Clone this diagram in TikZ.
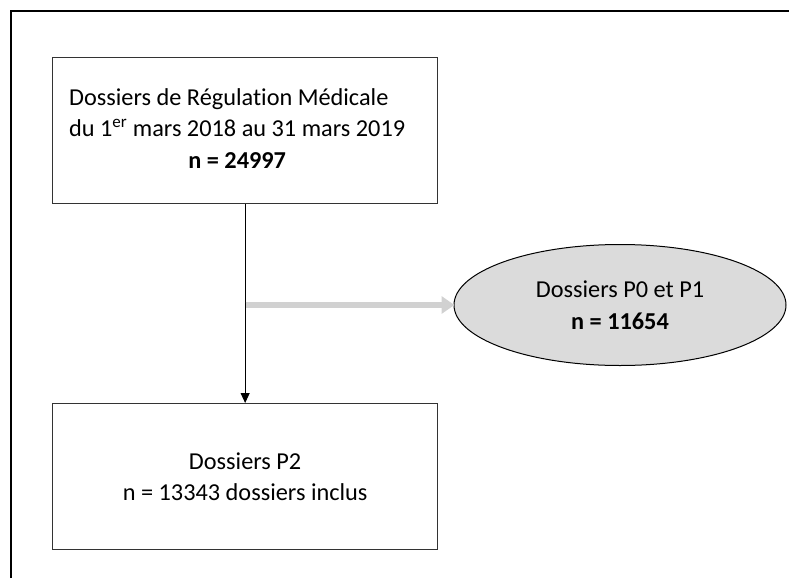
\documentclass[tikz,border=0pt]{standalone}
\usepackage{fontspec}
\setmainfont{Carlito}[Ligatures=NoCommon]
\usetikzlibrary{arrows.meta,shapes.geometric}
\begin{document}
\begin{tikzpicture}[x=1pt,y=-1pt,
  boxstyle/.style={draw=black!80, line width=1.3pt, minimum width=385pt, minimum height=146pt, inner sep=0pt, anchor=north west, font=\fontsize{24.3}{31.5}\selectfont, align=center},
  ovalstyle/.style={ellipse, draw=black, line width=1pt, fill=black!14, minimum width=332pt, minimum height=121pt, inner sep=0pt, font=\fontsize{24.3}{32}\selectfont, align=center},
  mainarrow/.style={draw=black, line width=1pt, -{Triangle[length=10pt,width=9pt]}},
  greyarrow/.style={draw=black!18, line width=6pt, -{Triangle[length=13pt,width=17pt]}, shorten >=-1pt}
]
\useasboundingbox (0,0) rectangle (789,578);
\draw[line width=2pt, black] (11,578) -- (11,11) -- (789,11);
\node[boxstyle] (top) at (52,57) {\begin{tabular}{@{}l@{}}Dossiers de Régulation Médicale\\du 1\textsuperscript{er} mars 2018 au 31 mars 2019\\\multicolumn{1}{@{}c@{}}{\textbf{n = 24997}}\end{tabular}\hspace{16pt}};
\node[boxstyle] (bottom) at (52,403) {Dossiers P2\\n = 13343 dossiers inclus};
\node[ovalstyle] (oval) at (620,305) {Dossiers P0 et P1\\\textbf{n = 11654}};
\draw[mainarrow] (top.south) -- (bottom.north);
\coordinate (branch) at (top.south |- oval.west);
\draw[greyarrow] ([xshift=0.5pt]branch) -- (oval.west);
\end{tikzpicture}
\end{document}
